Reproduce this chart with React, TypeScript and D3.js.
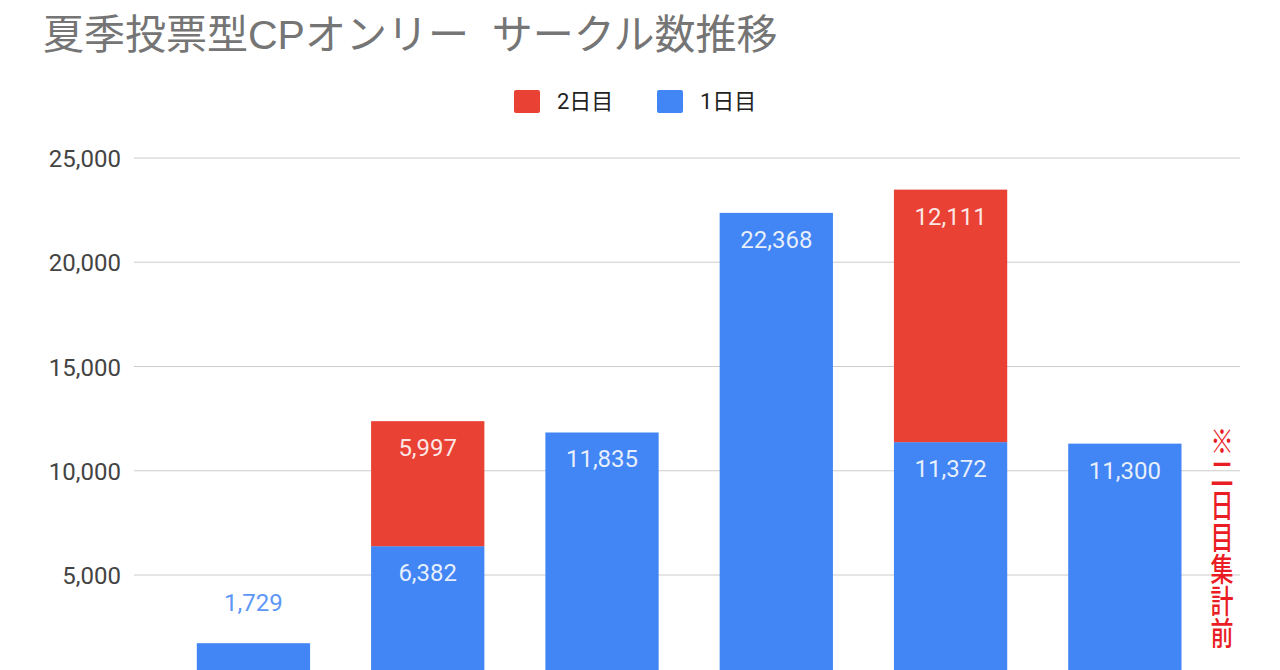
import { useEffect, useRef } from 'react'
import * as d3 from 'd3'

const W = 1280
const H = 670

const TITLE = '夏季投票型CPオンリー  サークル数推移'
const categories = ['第1回', '第2回', '第3回', '第4回', '第5回', '第6回']
const day1 = [1729, 6382, 11835, 22368, 11372, 11300]
const day2 = [0, 5997, 0, 0, 12111, 0]
const yTicks = [0, 5000, 10000, 15000, 20000, 25000]
const legendItems = [
  { name: '2日目', color: '#e94235' },
  { name: '1日目', color: '#4285f4' },
]
const NOTE = '※二日目集計前'

const FONT = 'Roboto, "Noto Sans CJK JP", sans-serif'

export default function App() {
  const svgRef = useRef<SVGSVGElement>(null)

  useEffect(() => {
    document.body.style.margin = '0'
    const svg = svgRef.current
    if (!svg) return
    const sel = d3.select(svg)
    sel.selectAll('*').remove()

    const x = d3.scaleBand<string>().domain(categories).range([166.3, 1212]).paddingInner(0.35).paddingOuter(0.175)
    const y = d3.scaleLinear().domain([0, 25000]).range([679.25, 158])

    // タイトル
    sel.append('text')
      .attr('x', 43).attr('y', 49)
      .attr('fill', '#757575').attr('font-size', 41)
      .attr('font-family', '"Liberation Sans", Arial, "Noto Sans CJK JP", sans-serif')
      .style('white-space', 'pre')
      .text(TITLE)

    // 凡例
    const lg = sel.append('g').attr('transform', 'translate(514, 90)')
    legendItems.forEach((d, i) => {
      const gx = i * 143
      lg.append('rect').attr('x', gx).attr('y', 0).attr('width', 26).attr('height', 23).attr('rx', 2).attr('fill', d.color)
      lg.append('text').attr('x', gx + 43).attr('y', 19)
        .attr('fill', '#222').attr('font-size', 22).attr('font-family', FONT)
        .text(d.name)
    })

    // グリッド + y軸
    const ga = sel.append('g')
    yTicks.forEach(t => {
      ga.append('line')
        .attr('x1', 134).attr('x2', 1240)
        .attr('y1', y(t)).attr('y2', y(t))
        .attr('stroke', t === 0 ? '#333' : '#cccccc').attr('stroke-width', 1.2)
      ga.append('text')
        .attr('x', 121).attr('y', y(t) + 9)
        .attr('text-anchor', 'end').attr('fill', '#444')
        .attr('font-size', 24).attr('font-family', FONT)
        .text(d3.format(',')(t))
    })

    // 棒
    const bars = sel.append('g')
    const bw = x.bandwidth()
    const fmt = d3.format(',')
    categories.forEach((c, i) => {
      const x0 = x(c) ?? 0
      const v1 = day1[i], v2 = day2[i]
      bars.append('rect')
        .attr('x', x0).attr('y', y(v1)).attr('width', bw).attr('height', y(0) - y(v1))
        .attr('fill', '#4285f4')
      if (v2 > 0) {
        bars.append('rect')
          .attr('x', x0).attr('y', y(v1 + v2)).attr('width', bw).attr('height', y(v1) - y(v1 + v2))
          .attr('fill', '#e94235')
      }
      const cx = x0 + bw / 2
      const inside = y(0) - y(v1) > 60
      bars.append('text')
        .attr('x', cx).attr('y', inside ? y(v1) + 35 : y(v1) - 32)
        .attr('text-anchor', 'middle')
        .attr('fill', inside ? '#ffffff' : '#5e97f6').attr('fill-opacity', inside ? 0.88 : 1)
        .attr('font-size', 24).attr('font-family', FONT)
        .text(fmt(v1))
      if (v2 > 0) {
        bars.append('text')
          .attr('x', cx).attr('y', y(v1 + v2) + 35)
          .attr('text-anchor', 'middle')
          .attr('fill', '#ffffff').attr('fill-opacity', 0.88)
          .attr('font-size', 24).attr('font-family', FONT)
          .text(fmt(v2))
      }
    })

    // 注記（縦書き）
    sel.append('text')
      .attr('transform', 'translate(1222, 425) scale(0.72, 1)')
      .attr('writing-mode', 'vertical-rl')
      .attr('fill', '#ea1c24').attr('font-size', 32).attr('font-weight', 500)
      .attr('font-family', '"Noto Sans CJK JP", sans-serif')
      .text(NOTE)
  }, [])

  return <svg ref={svgRef} width={W} height={H} style={{ display: 'block', background: '#fff' }} />
}
